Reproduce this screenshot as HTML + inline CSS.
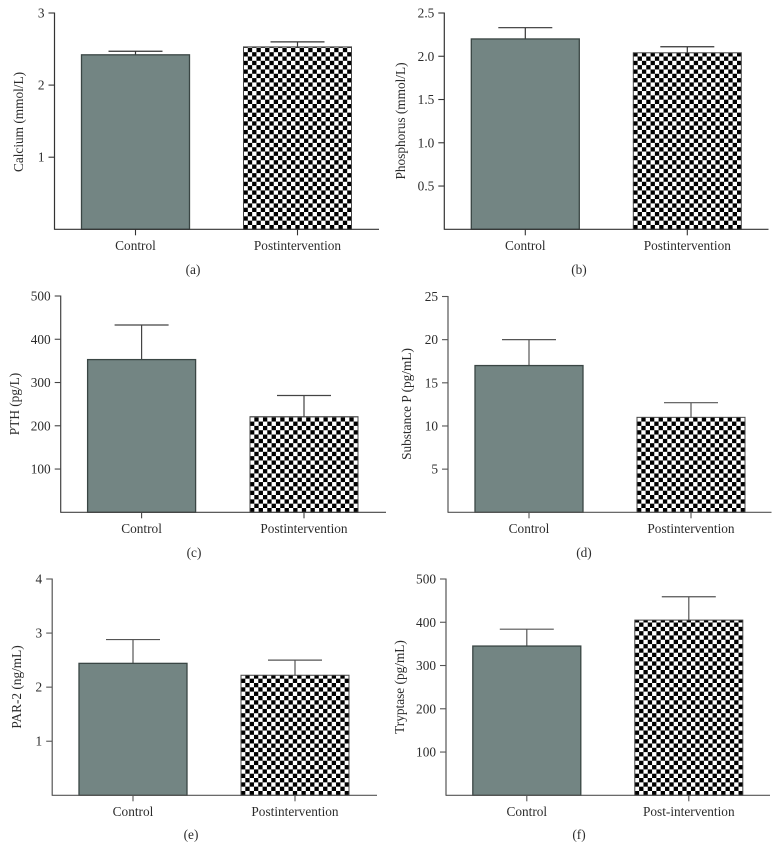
<!DOCTYPE html>
<html lang="en">
<head>
<meta charset="utf-8">
<title>Bar charts: control vs postintervention</title>
<style>
html,body{margin:0;padding:0;background:#fff;}
body{width:780px;height:852px;overflow:hidden;}
svg{display:block;}
text{font-family:"Liberation Serif",serif;fill:#2b2b2b;}
</style>
</head>
<body>
<svg id="figure" xmlns="http://www.w3.org/2000/svg" width="780" height="852" viewBox="0 0 780 852"></svg>
<script>
// Shared categories
const categoriesStandard = ['Control', 'Postintervention'];
const categoriesHyphen = ['Control', 'Post-intervention'];

// (a) Calcium
const calciumTicks = [1, 2, 3];
const calciumTickLabels = ['1', '2', '3'];
const calciumMax = [3];
const calciumMeans = [2.42, 2.53];
const calciumErrors = [0.05, 0.07];

// (b) Phosphorus
const phosphorusTicks = [0.5, 1.0, 1.5, 2.0, 2.5];
const phosphorusTickLabels = ['0.5', '1.0', '1.5', '2.0', '2.5'];
const phosphorusMax = [2.5];
const phosphorusMeans = [2.2, 2.04];
const phosphorusErrors = [0.13, 0.07];

// (c) PTH
const pthTicks = [100, 200, 300, 400, 500];
const pthTickLabels = ['100', '200', '300', '400', '500'];
const pthMax = [500];
const pthMeans = [353, 221];
const pthErrors = [80, 49];

// (d) Substance P
const substancePTicks = [5, 10, 15, 20, 25];
const substancePTickLabels = ['5', '10', '15', '20', '25'];
const substancePMax = [25];
const substancePMeans = [17, 11];
const substancePErrors = [3, 1.7];

// (e) PAR-2
const par2Ticks = [1, 2, 3, 4];
const par2TickLabels = ['1', '2', '3', '4'];
const par2Max = [4];
const par2Means = [2.44, 2.22];
const par2Errors = [0.44, 0.28];

// (f) Tryptase
const tryptaseTicks = [100, 200, 300, 400, 500];
const tryptaseTickLabels = ['100', '200', '300', '400', '500'];
const tryptaseMax = [500];
const tryptaseMeans = [345, 405];
const tryptaseErrors = [39, 54];

const NS = 'http://www.w3.org/2000/svg';
const figure = document.getElementById('figure');

function make(parent, tag, attrs, text) {
  const el = document.createElementNS(NS, tag);
  for (const k in attrs) el.setAttribute(k, attrs[k]);
  if (text !== undefined) el.textContent = text;
  parent.appendChild(el);
  return el;
}

const BAR_WIDTH = 108;
const FONT = 13.3;
const CELL = 4.32;

function drawPanel(p) {
  const g = make(figure, 'g', {});
  
  

  const yScale = v => p.bottom - (v / p.max) * (p.bottom - p.top);
  const xScale = i => p.firstCenter + i * p.step;

  // checker pattern, anchored to the bottom-left corner of the patterned bar
  const patX = xScale(1) - BAR_WIDTH / 2;
  const pat = make(g, 'pattern', {
    id: 'checker-' + p.id, patternUnits: 'userSpaceOnUse',
    x: patX, y: p.bottom - CELL, width: CELL * 2, height: CELL * 2
  });
  make(pat, 'rect', { x: 0, y: 0, width: CELL * 2, height: CELL * 2, fill: '#fff' });
  make(pat, 'rect', { x: 0, y: 0, width: CELL, height: CELL, fill: '#000' });
  make(pat, 'rect', { x: CELL, y: CELL, width: CELL, height: CELL, fill: '#000' });

  // bars and error bars
  p.means.forEach((m, i) => {
    const cx = xScale(i);
    const yTop = yScale(m);
    const yErr = yScale(m + p.errors[i]);

    const stem = make(g, 'line', { x1: cx, x2: cx, y1: yTop, y2: yErr, stroke: p.axisColor, 'stroke-width': 1.2 });
    
    

    const cap = make(g, 'line', { x1: cx - 27, x2: cx + 27, y1: yErr, y2: yErr, stroke: p.axisColor, 'stroke-width': 1.2 });
    
    

    const bar = make(g, 'rect', {
      x: cx - BAR_WIDTH / 2, y: yTop, width: BAR_WIDTH, height: p.bottom - yTop,
      fill: i === 0 ? '#738583' : 'url(#checker-' + p.id + ')',
      stroke: i === 0 ? '#3a4644' : '#444', 'stroke-width': i === 0 ? 1.3 : 1
    });
    
    

    const xTick = make(g, 'line', { x1: cx, x2: cx, y1: p.bottom, y2: p.bottom + 6, stroke: p.axisColor, 'stroke-width': 1.1 });
    
    

    const xLabel = make(g, 'text', {
      x: cx, y: p.bottom + 20.5, 'text-anchor': 'middle', 'font-size': FONT
    }, p.categories[i]);
    
    
  });

  // axes
  const yAxis = make(g, 'line', { x1: p.axisX, x2: p.axisX, y1: p.top - 0.5, y2: p.bottom + 0.5, stroke: p.axisColor, 'stroke-width': 1.2 });
  
  

  const xAxis = make(g, 'line', { x1: p.axisX, x2: p.axisEnd, y1: p.bottom, y2: p.bottom, stroke: p.axisColor, 'stroke-width': 1.2 });
  
  

  // y ticks
  p.ticks.forEach((t, i) => {
    const y = yScale(t);
    const tick = make(g, 'line', { x1: p.axisX - 6, x2: p.axisX, y1: y, y2: y, stroke: p.axisColor, 'stroke-width': 1.1 });
    
    

    const label = make(g, 'text', {
      x: p.axisX - 10, y: y + 4.5, 'text-anchor': 'end', 'font-size': FONT
    }, p.tickLabels[i]);
    
    
  });

  // y title
  const title = make(g, 'text', {
    x: 0, y: 0, 'text-anchor': 'middle', 'font-size': FONT,
    transform: 'translate(' + p.titleX + ',' + p.titleY + ') rotate(-90)'
  }, p.title);
  
  

  // panel caption
  const caption = make(g, 'text', {
    x: p.captionX, y: p.captionY, 'text-anchor': 'middle', 'font-size': FONT
  }, '(' + p.id + ')');
  
  
}

drawPanel({ id: 'a', title: 'Calcium (mmol/L)', categories: categoriesStandard,
  ticks: calciumTicks, tickLabels: calciumTickLabels, max: calciumMax[0],
  means: calciumMeans, errors: calciumErrors,
  axisX: 54.5, axisEnd: 379, top: 13, bottom: 229.3, firstCenter: 135.5, step: 162,
  titleX: 23, titleY: 122, captionX: 193, captionY: 274, axisColor: '#333' });

drawPanel({ id: 'b', title: 'Phosphorus (mmol/L)', categories: categoriesStandard,
  ticks: phosphorusTicks, tickLabels: phosphorusTickLabels, max: phosphorusMax[0],
  means: phosphorusMeans, errors: phosphorusErrors,
  axisX: 444.3, axisEnd: 768.5, top: 13, bottom: 229.3, firstCenter: 525.3, step: 162,
  titleX: 405, titleY: 121, captionX: 579, captionY: 274, axisColor: '#333' });

drawPanel({ id: 'c', title: 'PTH (pg/L)', categories: categoriesStandard,
  ticks: pthTicks, tickLabels: pthTickLabels, max: pthMax[0],
  means: pthMeans, errors: pthErrors,
  axisX: 60.7, axisEnd: 386, top: 296, bottom: 512.3, firstCenter: 141.6, step: 162.4,
  titleX: 19, titleY: 404, captionX: 194, captionY: 557, axisColor: '#444' });

drawPanel({ id: 'd', title: 'Substance P (pg/mL)', categories: categoriesStandard,
  ticks: substancePTicks, tickLabels: substancePTickLabels, max: substancePMax[0],
  means: substancePMeans, errors: substancePErrors,
  axisX: 448, axisEnd: 771.5, top: 296.5, bottom: 512.3, firstCenter: 529, step: 162,
  titleX: 411, titleY: 404, captionX: 584, captionY: 557, axisColor: '#555' });

drawPanel({ id: 'e', title: 'PAR-2 (ng/mL)', categories: categoriesStandard,
  ticks: par2Ticks, tickLabels: par2TickLabels, max: par2Max[0],
  means: par2Means, errors: par2Errors,
  axisX: 52.2, axisEnd: 377, top: 579, bottom: 795.3, firstCenter: 133, step: 162,
  titleX: 21, titleY: 687, captionX: 191, captionY: 839, axisColor: '#555' });

drawPanel({ id: 'f', title: 'Tryptase (pg/mL)', categories: categoriesHyphen,
  ticks: tryptaseTicks, tickLabels: tryptaseTickLabels, max: tryptaseMax[0],
  means: tryptaseMeans, errors: tryptaseErrors,
  axisX: 446, axisEnd: 770, top: 579, bottom: 795.3, firstCenter: 526.8, step: 162,
  titleX: 404, titleY: 687, captionX: 579, captionY: 839, axisColor: '#555' });
</script>
</body>
</html>
